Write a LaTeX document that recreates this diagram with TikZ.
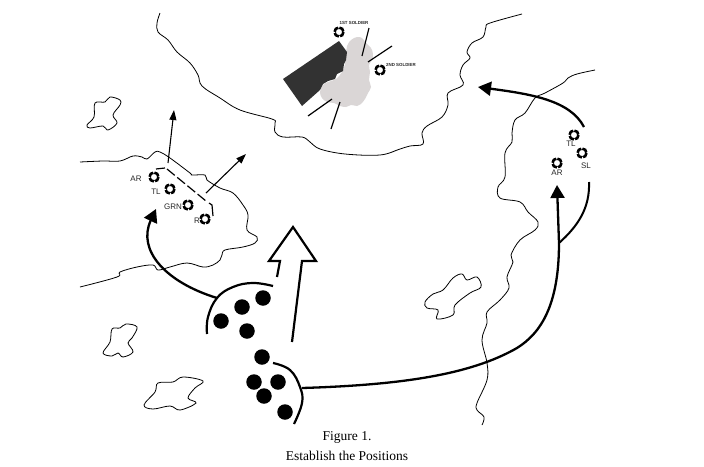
\documentclass[tikz,border=0pt]{standalone}
\usepackage{fontspec}
\setmainfont{Liberation Serif}
\newfontfamily\labelfont{Liberation Sans}
\usetikzlibrary{arrows.meta}
\definecolor{smoke}{RGB}{218,214,214}
\definecolor{bunker}{RGB}{50,50,50}
\tikzset{
	terrain/.style={line width=0.8pt,smooth,tension=0.6},
	soldier/.style={circle,draw=black,fill=white,line width=2.6pt,minimum size=9pt,inner sep=0pt,dash pattern=on 5.9pt off 1.17pt,dash phase=-0.58pt},
	team/.style={circle,fill=black,minimum size=15.5pt,inner sep=0pt},
	rolelabel/.style={font=\labelfont\fontsize{8}{8}\selectfont,text=black!85,inner sep=0pt},
	targetlabel/.style={font=\labelfont\bfseries\fontsize{4.4}{4.4}\selectfont,text=black!85,inner sep=0pt},
	caption/.style={font=\fontsize{13.5}{13.5}\selectfont,inner sep=0pt},
	unitarc/.style={line width=2.2pt,smooth,tension=0.7},
	bigmove/.style={line width=2.3pt,-{Triangle[length=13pt,width=14pt]}},
	smallmove/.style={line width=1.1pt,-{Triangle[length=10pt,width=7pt]}}
}
\begin{document}
\begin{tikzpicture}[x=1pt,y=-1pt]
			\useasboundingbox (0,0) rectangle (704,466);
			% terrain
			\draw[terrain] plot coordinates {(160,13) (157,23) (158,32) (168,40) (177,52) (190,63) (198,75) (202,86) (220,98) (240,110) (272,119) (275,123) (275,132) (283,137) (302,137) (310,142) (320,149) (345,154) (380,155) (400,149) (410,146) (423,144) (422,133) (427,126) (442,117) (448,105) (448,93) (463,85) (460,75) (463,65) (470,58) (467,52) (472,43) (483,37) (486,27) (490,23) (522,14)};
			\draw[terrain] plot coordinates {(80,162) (103,161) (120,161) (133,156) (142,157) (147,159) (155,152) (160,152) (170,158) (190,173) (192,175) (205,175) (207,180) (220,188) (233,193) (243,205) (248,215) (247,230) (257,237) (255,243) (243,247) (225,250) (222,255) (220,260) (213,265) (203,267) (187,263) (170,267) (158,270) (153,265) (137,267) (120,272) (117,277) (80,287)};
			\draw[terrain] plot coordinates {(595,70) (577,74) (568,78) (563,83) (545,93) (535,98) (525,113) (515,120) (512,133) (512,142) (505,153) (505,177) (498,187) (500,198) (520,202) (528,212) (538,222) (535,230) (520,240) (511,255) (513,262) (507,277) (509,288) (500,300) (487,312) (487,323) (482,340) (487,363) (487,380) (477,403) (477,410) (484,417) (482,425)};
			\draw[terrain] plot[smooth cycle] coordinates {(110,97) (120,100) (120,105) (113,115) (117,123) (108,130) (103,126) (90,128) (87,125) (94,117) (95,103) (105,102)};
			\draw[terrain] plot[smooth cycle] coordinates {(126,324) (137,327) (132,338) (128,343) (133,352) (123,357) (118,353) (112,356) (103,353) (110,342) (112,329) (120,328)};
			\draw[terrain] plot[smooth cycle] coordinates {(183,377) (203,381) (195,388) (188,398) (196,403) (180,410) (170,406) (153,409) (144,405) (155,392) (158,383) (173,382)};
			\draw[terrain] plot[smooth cycle] coordinates {(462,274) (467,280) (477,277) (481,287) (470,293) (455,305) (453,315) (437,319) (438,310) (427,308) (425,302) (433,294) (443,290) (453,278)};

			% objective
			\fill[smoke] plot[smooth cycle,tension=0.6] coordinates {(357,37) (362,38) (366,43) (371,48) (373,54) (372,60) (369,65) (370,72) (369,80) (371,87) (368,93) (365,99) (361,104) (357,106) (351,105) (346,107) (340,106) (334,103) (327,102) (322,98) (320,92) (323,85) (328,82) (336,79) (342,72) (345,64) (346,55) (347,46) (351,40)};
			\fill[bunker] (283,79) -- (339,41) -- (347,52) -- (346,60) -- (344,64) -- (343,71) -- (337,74) -- (335,79) -- (328,81) -- (323,84) -- (320,90) -- (302,106) -- cycle;
			\draw[line width=1.2pt] (369,28) -- (362,56);
			\draw[line width=1.2pt] (392,46) -- (368,62);
			\draw[line width=1.2pt] (332,99) -- (308,116);
			\draw[line width=1.2pt] (340,102) -- (331,129);
			\node[soldier] (first) at (339,32) {};
			\node[soldier] (second) at (380,70) {};
			\node[targetlabel] (firstlabel) at (354,23) {1ST SOLDIER};
			\node[targetlabel] (secondlabel) at (401,65) {2ND SOLDIER};

			% left team
			\foreach \name/\x/\y/\lx/\ly/\txt in {ar/154/177/136/179/AR,tl/170/189/156/192/TL,grn/188/205/173/207/GRN,r/205/219/197/221/R}
			{
				\node[soldier] (\name) at (\x,\y) {};
				\node[rolelabel] (\name label) at (\lx,\ly) {\txt};
			}
			\draw[line width=1.2pt] (156,169) -- (165,168);
			\draw[line width=1.2pt,dash pattern=on 10pt off 3.2pt] (167,169) -- (206,201);
			\draw[line width=1.2pt] (209,203) -- (212,205) -- (213,216);
			\coordinate (leftA) at (168,163);
			\coordinate (leftB) at (174,110);
			\coordinate (leftC) at (206,193);
			\coordinate (leftD) at (246,154);
			\draw[smallmove] (leftA) -- (leftB);
			\draw[smallmove] (leftC) -- (leftD);

			% right team
			\foreach \name/\x/\y/\lx/\ly/\txt in {rtl/574/135/571/144/TL,rsl/582/153/586/166/SL,rar/557/163/557/173/AR}
			{
				\node[soldier] (\name) at (\x,\y) {};
				\node[rolelabel] (\name label) at (\lx,\ly) {\txt};
			}

			% squads
			\foreach \name/\x/\y in {a/221/321,b/242/307,c/263/298,d/247/331,e/262/357,f/254/382,g/278/382,h/264/396,i/285/412}
			{
				\node[team] (\name) at (\x,\y) {};
			}
			\draw[unitarc] plot coordinates {(207,334) (208,317) (217,298) (233,287) (253,283) (273,286)};
			\draw[unitarc] plot coordinates {(273,363) (290,370) (300,387) (302,403) (294,424)};

			% moves
			\coordinate (upperarc) at (217,298);
			\coordinate (lowerarc) at (302,388);
			\coordinate (lefttip) at (156,209);
			\coordinate (rightbend) at (517,348);
			\coordinate (rightfork) at (559,243);
			\coordinate (righttip) at (557,185);
			\coordinate (branch) at (589,182);
			\coordinate (flankstart) at (584,127);
			\coordinate (flanktip) at (478,87);
			\draw[bigmove] (upperarc) .. controls (165,282) and (137,250) .. (lefttip);
			\draw[line width=2.3pt] (lowerarc) .. controls (400,385) and (470,375) .. (rightbend) .. controls (541,333) and (559,305) .. (rightfork);
			\draw[bigmove] (rightfork) -- (righttip);
			\draw[line width=2pt] (rightfork) .. controls (578,226) and (590,208) .. (branch);
			\draw[bigmove] (flankstart) .. controls (570,100) and (530,94) .. (flanktip);

			% main effort
			\draw[line width=2.2pt] (292,342) -- (302,261) -- (316,261) -- (293,227) -- (269,261) -- (280,261) -- (277,277);

			% caption
			\node[caption] (figtitle) at (347,437) {Figure 1.};
			\node[caption] (figname) at (347,456) {Establish the Positions};
		\end{tikzpicture}
\end{document}
